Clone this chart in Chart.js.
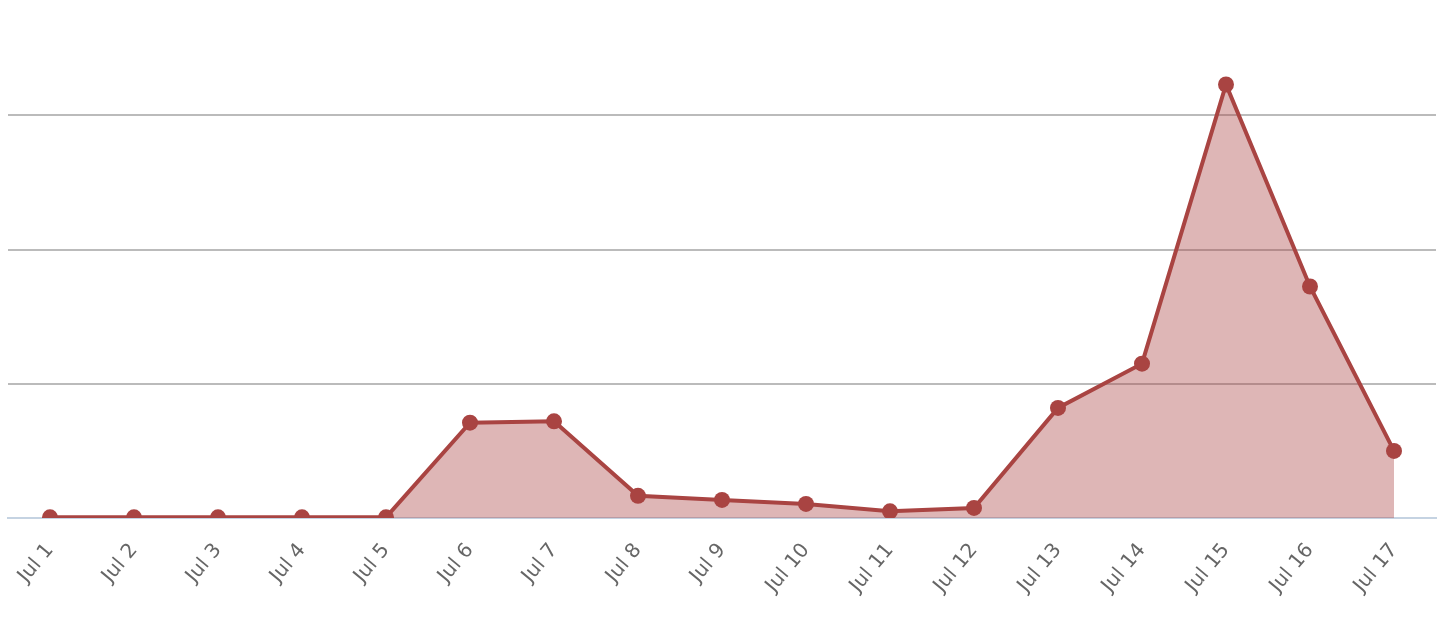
<!DOCTYPE html>
<html>
<head>
<meta charset="utf-8">
<script src="https://cdn.jsdelivr.net/npm/chart.js@4/dist/chart.umd.min.js"></script>
<style>
html,body{margin:0;padding:0;background:#fff;}
#wrap{width:1446px;height:626px;position:relative;}
</style>
</head>
<body>
<div id="wrap"><canvas id="c" width="1446" height="626"></canvas></div>
<script>
const categories = ["Jul 1","Jul 2","Jul 3","Jul 4","Jul 5","Jul 6","Jul 7","Jul 8","Jul 9","Jul 10","Jul 11","Jul 12","Jul 13","Jul 14","Jul 15","Jul 16","Jul 17"];
const values = [0.05,0.05,0.05,0.05,0.05,7.1,7.2,1.65,1.35,1.05,0.5,0.75,8.2,11.5,32.3,17.25,5.0];
const yMin = 0;
const yMax = 38;
const yStep = 10;

new Chart(document.getElementById('c'), {
  type: 'line',
  data: {
    labels: categories,
    datasets: [{
      data: values,
      borderColor: '#a94442',
      backgroundColor: 'rgba(169,68,66,0.39)',
      borderWidth: 4,
      pointRadius: 8,
      pointHoverRadius: 8,
      pointBackgroundColor: '#a94442',
      pointBorderColor: '#a94442',
      pointBorderWidth: 0,
      tension: 0,
      fill: 'origin'
    }]
  },
  options: {
    responsive: false,
    animation: false,
    devicePixelRatio: 1,
    layout: { padding: { left: 4, right: 10, top: 0, bottom: 0 } },
    plugins: { legend: { display: false }, tooltip: { enabled: false } },
    scales: {
      x: {
        offset: true,
        grid: { display: false },
        border: { display: true, color: '#c5d3e2', width: 2 },
        ticks: {
          color: '#666',
          font: { family: 'DejaVu Sans', size: 20 },
          maxRotation: 50, minRotation: 50,
          autoSkip: false,
          padding: 13
        },
        afterFit: (s) => { s.height = 108; }
      },
      y: {
        min: yMin, max: yMax,
        ticks: { display: false, stepSize: yStep },
        border: { display: false },
        grid: {
          color: (ctx) => (ctx.tick && (ctx.tick.value === 0 || ctx.tick.value > 30)) ? 'rgba(0,0,0,0)' : '#bbbbbb',
          lineWidth: 2,
          drawTicks: false
        },
        afterFit: (s) => { s.width = 4; }
      }
    }
  }
});
</script>
</body>
</html>
